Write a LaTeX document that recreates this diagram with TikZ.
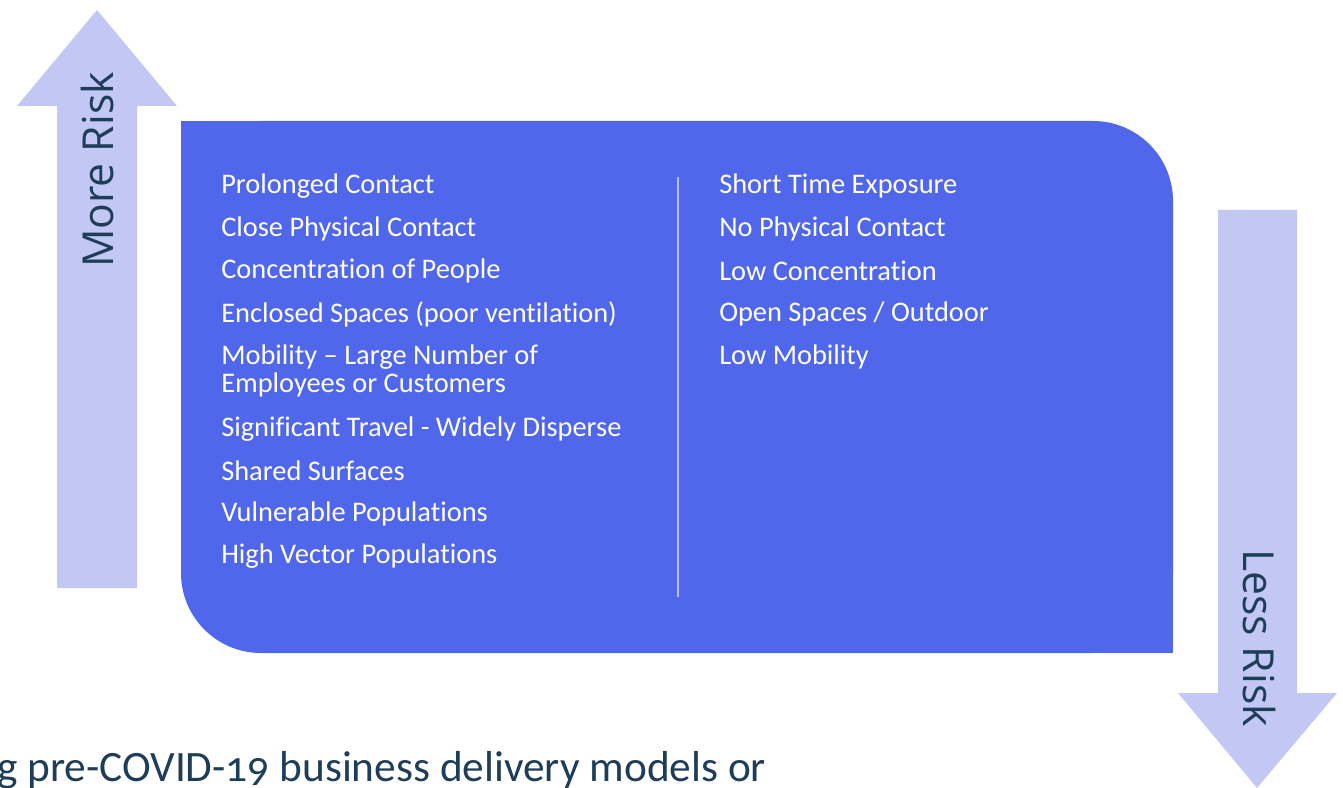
\documentclass[tikz,border=0pt]{standalone}
\usepackage{fontspec}
\setmainfont{Carlito}[Ligatures=NoCommon]
\newfontfamily\arrowfont{Open Sans}
\usepackage{tikz}

\definecolor{boxblue}{RGB}{80,103,236}
\definecolor{arrowlav}{RGB}{195,199,244}
\definecolor{lineLav}{RGB}{185,191,243}
\definecolor{labelink}{RGB}{30,61,88}

\tikzset{
	item/.style={anchor=west, inner sep=0pt, text=white, align=left,
		font=\fontsize{21.3}{21}\selectfont},
	risklabel/.style={inner sep=0pt, text=labelink,
		font=\arrowfont\fontsize{32}{32}\selectfont},
}

\begin{document}
\begin{tikzpicture}[x=0.75pt, y=-0.75pt]
	
	\useasboundingbox (0,0) rectangle (1343,788);
	\clip (0,0) rectangle (1343,788);
	
	% arrows
	\fill[arrowlav] (57,588) -- (57,106) -- (17,106) -- (97,10) -- (177,106) -- (137,106) -- (137,588) -- cycle;
	\fill[arrowlav] (1218,210) -- (1297,210) -- (1297,693) -- (1337,693) -- (1257,788) -- (1178,693) -- (1218,693) -- cycle;
	
	\node[risklabel, rotate=90] (more) at (97,170) {More Risk};
	\node[risklabel, rotate=-90] (less) at (1259,638) {Less Risk};
	
	% main box
	\fill[boxblue, rounded corners=60pt] (181,121) rectangle (1173,653);
	\fill[boxblue] (181,121) rectangle (600,400);
	\fill[boxblue] (700,400) rectangle (1173,653);
	
	\draw[lineLav, line width=1.5pt] (678,177) -- (678,597);
	
	% left column
	\node[item] (l1) at (221,186) {Prolonged Contact};
	\node[item] (l2) at (221,229) {Close Physical Contact};
	\node[item] (l3) at (221,271) {Concentration of People};
	\node[item] (l4) at (221,314) {Enclosed Spaces (poor ventilation)};
	\node[item] (l5) at (221,371) {Mobility -- Large Number of\\Employees or Customers};
	\node[item] (l6) at (221,429) {Significant Travel - Widely Disperse};
	\node[item] (l7) at (221,471) {Shared Surfaces};
	\node[item] (l8) at (221,514) {Vulnerable Populations};
	\node[item] (l9) at (221,556) {High Vector Populations};
	
	% right column
	\node[item] (r1) at (719,186) {Short Time Exposure};
	\node[item] (r2) at (719,229) {No Physical Contact};
	\node[item] (r3) at (719,271) {Low Concentration};
	\node[item] (r4) at (719,314) {Open Spaces / Outdoor};
	\node[item] (r5) at (719,357) {Low Mobility};
	
	% cut-off line below
	\node[anchor=base west, inner sep=0pt, text=labelink,
		font=\addfontfeatures{Numbers=OldStyle}\fontsize{32.5}{33}\selectfont] (bottom) at (-3,781) {g pre-COVID-19 business delivery models or};
	
\end{tikzpicture}
\end{document}
